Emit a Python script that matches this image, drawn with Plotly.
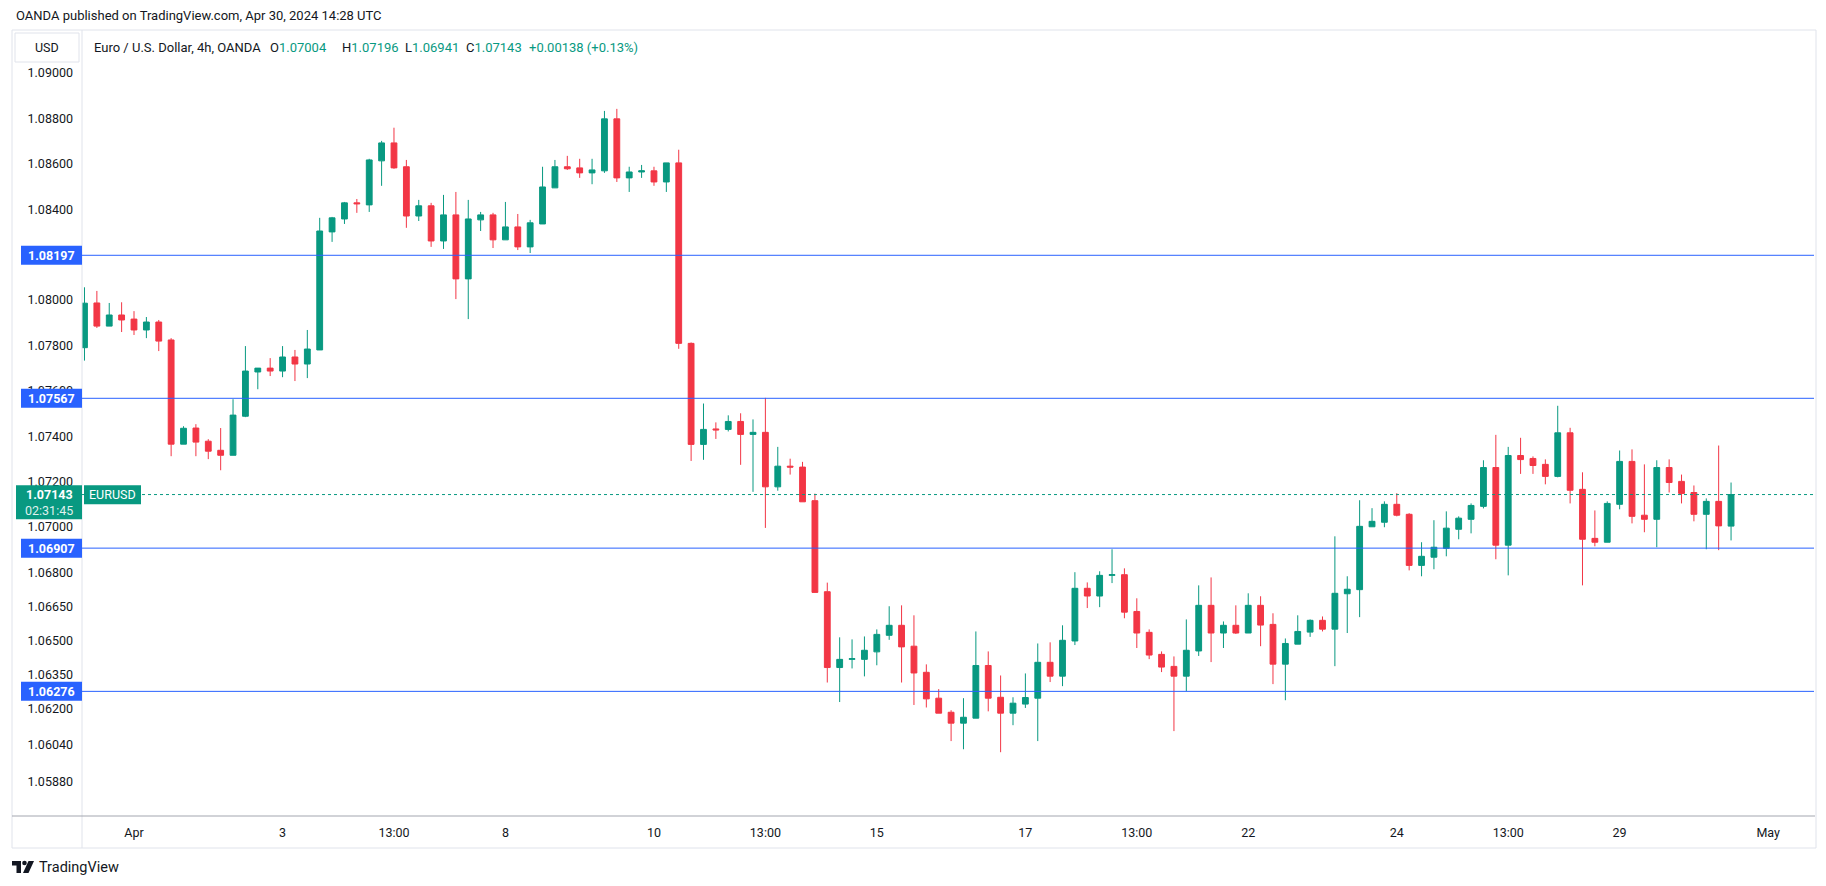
import plotly.graph_objects as go

# ---------------- data (EUR/USD 4h, OANDA) ----------------
opens = [1.0779, 1.07987, 1.07885, 1.07934, 1.07916, 1.07868, 1.07903, 1.07824, 1.07365, 1.07436,
         1.07378, 1.07338, 1.07316, 1.07488, 1.07683, 1.077, 1.07687, 1.07749, 1.07718, 1.0778,
         1.083, 1.08357, 1.08428, 1.08419, 1.08613, 1.08692, 1.08587, 1.0837, 1.08415, 1.0826,
         1.08375, 1.08093, 1.08353, 1.08375, 1.08265, 1.08322, 1.08234, 1.08335, 1.08494, 1.08587,
         1.08582, 1.0856, 1.08569, 1.08798, 1.08538, 1.08564, 1.08569, 1.0852, 1.08604, 1.07809,
         1.07364, 1.07432, 1.0743, 1.07465, 1.07408, 1.07417, 1.07177, 1.07268, 1.07264, 1.07116,
         1.06715, 1.06381, 1.06417, 1.06417, 1.0645, 1.06523, 1.06567, 1.06475, 1.0636, 1.06246,
         1.06184, 1.06136, 1.06158, 1.0639, 1.0625, 1.0618, 1.0622, 1.06246, 1.06404, 1.06343,
         1.06498, 1.0673, 1.06696, 1.06787, 1.0679, 1.06628, 1.06536, 1.06439, 1.06386, 1.06343,
         1.06454, 1.06655, 1.06533, 1.06567, 1.06533, 1.06655, 1.06571, 1.06396, 1.06484, 1.06537,
         1.06589, 1.0655, 1.06706, 1.06724, 1.07001, 1.07021, 1.071, 1.07056, 1.06831, 1.06867,
         1.06906, 1.0699, 1.07034, 1.07091, 1.07262, 1.0692, 1.07315, 1.07302, 1.07276, 1.07223,
         1.07415, 1.07166, 1.0695, 1.06933, 1.071, 1.07289, 1.07052, 1.07034, 1.07262, 1.07201,
         1.07152, 1.07056, 1.07113, 1.07004]
highs = [1.08056, 1.0804, 1.07987, 1.0799, 1.07951, 1.07925, 1.07912, 1.07832, 1.07444, 1.07453,
         1.07387, 1.07436, 1.07563, 1.07797, 1.077, 1.07744, 1.07797, 1.0778, 1.07868, 1.08362,
         1.08366, 1.08432, 1.08445, 1.08622, 1.08701, 1.08759, 1.08617, 1.08441, 1.08428, 1.08463,
         1.08476, 1.08441, 1.08388, 1.08384, 1.08432, 1.08379, 1.08353, 1.08587, 1.08617, 1.08635,
         1.08622, 1.08622, 1.08833, 1.08842, 1.08587, 1.08595, 1.08587, 1.08604, 1.08662, 1.07813,
         1.07544, 1.07461, 1.07492, 1.07501, 1.07474, 1.07569, 1.07353, 1.07301, 1.07287, 1.07147,
         1.06755, 1.06514, 1.06505, 1.06518, 1.06549, 1.06651, 1.06655, 1.06611, 1.06395, 1.06286,
         1.06193, 1.06246, 1.0654, 1.06452, 1.06346, 1.0625, 1.06355, 1.06487, 1.06492, 1.06567,
         1.06801, 1.06756, 1.06805, 1.06902, 1.06818, 1.06686, 1.06549, 1.06452, 1.0643, 1.06593,
         1.06743, 1.06778, 1.06584, 1.06655, 1.06708, 1.06695, 1.0662, 1.06509, 1.06611, 1.06593,
         1.06606, 1.06959, 1.06783, 1.07118, 1.07083, 1.07113, 1.07149, 1.07061, 1.06933, 1.0703,
         1.07069, 1.07047, 1.07104, 1.07294, 1.07406, 1.07353, 1.07393, 1.07311, 1.07298, 1.07534,
         1.07437, 1.07241, 1.07073, 1.07113, 1.07337, 1.07342, 1.07276, 1.07294, 1.07298, 1.07231,
         1.07183, 1.07126, 1.07359, 1.07196]
lows = [1.07733, 1.07877, 1.07885, 1.07859, 1.07846, 1.07832, 1.07775, 1.07312, 1.07365, 1.07312,
        1.07299, 1.0725, 1.07316, 1.07484, 1.07607, 1.07665, 1.0766, 1.07643, 1.07656, 1.0778,
        1.08256, 1.08335, 1.08384, 1.08388, 1.08503, 1.08578, 1.08318, 1.08348, 1.08234, 1.08225,
        1.08004, 1.07916, 1.08304, 1.08229, 1.08265, 1.0822, 1.08207, 1.08335, 1.08494, 1.08573,
        1.08538, 1.0851, 1.0856, 1.0852, 1.08476, 1.08538, 1.08503, 1.08476, 1.07785, 1.07291,
        1.07296, 1.07388, 1.07421, 1.07274, 1.07155, 1.06996, 1.0716, 1.07231, 1.07111, 1.06712,
        1.06315, 1.06229, 1.06377, 1.06342, 1.06391, 1.06503, 1.06315, 1.06216, 1.06205, 1.0618,
        1.06057, 1.06021, 1.06158, 1.06188, 1.06008, 1.06127, 1.06203, 1.06057, 1.06317, 1.06299,
        1.0648, 1.06643, 1.06647, 1.06753, 1.06598, 1.06467, 1.06418, 1.06361, 1.06101, 1.06277,
        1.06432, 1.06405, 1.06467, 1.06529, 1.06533, 1.06475, 1.06308, 1.06237, 1.06484, 1.06516,
        1.0654, 1.06387, 1.06533, 1.06603, 1.07001, 1.06999, 1.07047, 1.06809, 1.06783, 1.06814,
        1.06871, 1.06946, 1.06972, 1.07082, 1.06858, 1.06787, 1.07234, 1.07234, 1.07188, 1.07219,
        1.07104, 1.06743, 1.06915, 1.06933, 1.07078, 1.07016, 1.06977, 1.06911, 1.07152, 1.07104,
        1.07025, 1.06902, 1.06898, 1.06941]
closes = [1.07986, 1.07885, 1.07934, 1.07912, 1.07868, 1.07903, 1.07819, 1.07365, 1.07435, 1.07374,
          1.07334, 1.07316, 1.07493, 1.07687, 1.077, 1.07687, 1.07749, 1.07718, 1.07784, 1.08304,
          1.08362, 1.08428, 1.08424, 1.08617, 1.08692, 1.08582, 1.0837, 1.08415, 1.0826, 1.08375,
          1.08093, 1.08357, 1.08375, 1.08265, 1.08322, 1.08234, 1.0834, 1.08498, 1.08587, 1.08578,
          1.0856, 1.08573, 1.08798, 1.08538, 1.08564, 1.08569, 1.0852, 1.08604, 1.07809, 1.07364,
          1.0743, 1.07428, 1.07465, 1.07408, 1.07417, 1.07177, 1.07268, 1.07264, 1.07111, 1.06712,
          1.06381, 1.06417, 1.0642, 1.06457, 1.06527, 1.06567, 1.06472, 1.06357, 1.06243, 1.0618,
          1.06136, 1.06162, 1.0639, 1.06246, 1.0618, 1.06224, 1.06249, 1.06404, 1.06343, 1.06501,
          1.0673, 1.06696, 1.06787, 1.0679, 1.06625, 1.06533, 1.06436, 1.06383, 1.06343, 1.06457,
          1.06655, 1.06533, 1.06567, 1.06533, 1.06655, 1.06568, 1.06396, 1.06487, 1.0654, 1.06589,
          1.0655, 1.06708, 1.06726, 1.07003, 1.07025, 1.071, 1.07052, 1.06831, 1.06871, 1.06911,
          1.06995, 1.07039, 1.07095, 1.07262, 1.0692, 1.07315, 1.07297, 1.07271, 1.07223, 1.07415,
          1.07162, 1.06946, 1.06933, 1.07104, 1.07289, 1.07047, 1.07034, 1.07262, 1.07196, 1.07148,
          1.07056, 1.07113, 1.07005, 1.07143]

x_tick_index = [4, 16, 25, 34, 46, 55, 64, 76, 85, 94, 106, 115, 124, 136]
x_tick_labels = ["Apr", "3", "13:00", "8", "10", "13:00", "15", "17", "13:00", "22", "24", "13:00", "29", "May"]
y_tick_values = [1.09, 1.088, 1.086, 1.084, 1.08, 1.078, 1.076, 1.074, 1.072, 1.07, 1.068,
                 1.0665, 1.065, 1.0635, 1.062, 1.0604, 1.0588]
level_lines = [1.08197, 1.07567, 1.06907, 1.06276]
last_price = 1.07143
countdown = "02:31:45"
symbol = "EURUSD"
header_title = "Euro / U.S. Dollar, 4h, OANDA"
header_ohlc = [("O", "1.07004"), ("H", "1.07196"), ("L", "1.06941"), ("C", "1.07143")]
header_change = "+0.00138 (+0.13%)"
published = "OANDA published on TradingView.com, Apr 30, 2024 14:28 UTC"

# ---------------- layout geometry (pixels) ----------------
W, H = 1826, 886
PL, PR, PT, PB = 82, 1814, 31, 816


def px(x):
    return (x - PL) / (PR - PL)


def py(y):
    return (PB - y) / (PB - PT)


GREEN = "#089981"
RED = "#F23645"
BLUE = "#2962FF"
TXT = "#131722"
FONT = "Roboto, 'Noto Sans', sans-serif"

idx = list(range(len(opens)))

fig = go.Figure()
fig.add_trace(go.Candlestick(
    x=idx, open=opens, high=highs, low=lows, close=closes,
    increasing=dict(line=dict(color=GREEN, width=1), fillcolor=GREEN),
    decreasing=dict(line=dict(color=RED, width=1), fillcolor=RED),
    whiskerwidth=0, showlegend=False, hoverinfo="skip",
))

shapes = []
# outer frame
shapes.append(dict(type="rect", xref="paper", yref="paper", x0=px(12), x1=px(1816), y0=py(848), y1=py(30),
                   line=dict(color="#e0e3eb", width=1), fillcolor="rgba(0,0,0,0)", layer="below"))
# price-axis separator
shapes.append(dict(type="line", xref="paper", yref="paper", x0=px(82), x1=px(82), y0=py(848), y1=py(30),
                   line=dict(color="#e0e3eb", width=1)))
# time-axis line
shapes.append(dict(type="line", xref="paper", yref="paper", x0=px(12), x1=px(1815), y0=py(816), y1=py(816),
                   line=dict(color="#a3a6af", width=1)))
# USD box
shapes.append(dict(type="rect", xref="paper", yref="paper", x0=px(15), x1=px(79), y0=py(62), y1=py(33),
                   line=dict(color="#e0e3eb", width=1), fillcolor="white"))
# horizontal level lines
for lv in level_lines:
    shapes.append(dict(type="line", xref="paper", yref="y", x0=0, x1=1, y0=lv, y1=lv,
                       line=dict(color=BLUE, width=1)))
# last price dotted line
shapes.append(dict(type="line", xref="paper", yref="y", x0=0, x1=1, y0=last_price, y1=last_price,
                   line=dict(color=GREEN, width=1, dash="dot")))
# level label boxes
for lv in level_lines:
    shapes.append(dict(type="rect", xref="paper", yref="y", x0=px(21), x1=px(82),
                       ysizemode="pixel", yanchor=lv, y0=-9.5, y1=9.5,
                       line=dict(width=0), fillcolor=BLUE))
# last price box (price + countdown)
shapes.append(dict(type="rect", xref="paper", yref="y", x0=px(16), x1=px(82),
                   ysizemode="pixel", yanchor=last_price, y0=-24.7, y1=9.3,
                   line=dict(width=0), fillcolor=GREEN))
# symbol box
shapes.append(dict(type="rect", xref="paper", yref="y", x0=px(84), x1=px(141),
                   ysizemode="pixel", yanchor=last_price, y0=-9.7, y1=9.3,
                   line=dict(width=0), fillcolor=GREEN))
# TradingView logo glyph
shapes.append(dict(type="path", xref="paper", yref="paper",
                   path="M{},{} L{},{} L{},{} L{},{} L{},{} L{},{} Z".format(
                       px(12), py(861), px(21), py(861), px(21), py(873),
                       px(16.5), py(873), px(16.5), py(865.5), px(12), py(865.5)),
                   fillcolor=TXT, line=dict(width=0)))
shapes.append(dict(type="circle", xref="paper", yref="paper", x0=px(22.2), x1=px(26.8), y0=py(865.3), y1=py(860.7),
                   fillcolor=TXT, line=dict(width=0)))
shapes.append(dict(type="path", xref="paper", yref="paper",
                   path="M{},{} L{},{} L{},{} L{},{} Z".format(
                       px(28.5), py(861), px(34), py(861), px(28.5), py(873), px(23), py(873)),
                   fillcolor=TXT, line=dict(width=0)))

ann = []
for lv in level_lines:
    ann.append(dict(xref="paper", yref="y", x=px(51.5), y=lv, text="<b>%.5f</b>" % lv, showarrow=False,
                    xanchor="center", yanchor="middle", font=dict(family=FONT, size=12.5, color="white")))
ann.append(dict(xref="paper", yref="y", x=px(49), y=last_price, text="<b>%.5f</b>" % last_price, showarrow=False,
                xanchor="center", yanchor="middle", font=dict(family=FONT, size=12.5, color="white")))
ann.append(dict(xref="paper", yref="y", x=px(49), y=last_price, yshift=-16, text=countdown, showarrow=False,
                xanchor="center", yanchor="middle", font=dict(family=FONT, size=12.5, color="rgba(255,255,255,0.88)")))
ann.append(dict(xref="paper", yref="y", x=px(112.5), y=last_price, text=symbol, showarrow=False,
                xanchor="center", yanchor="middle", font=dict(family=FONT, size=12.5, color="white")))
ann.append(dict(xref="paper", yref="paper", x=px(14), y=py(15), text=published, showarrow=False,
                xanchor="left", yanchor="middle", font=dict(family=FONT, size=13, color=TXT)))
ann.append(dict(xref="paper", yref="paper", x=px(47), y=py(47.5), text="USD", showarrow=False,
                xanchor="center", yanchor="middle", font=dict(family=FONT, size=12.5, color=TXT)))
ann.append(dict(xref="paper", yref="paper", x=px(92), y=py(47.5), text=header_title, showarrow=False,
                xanchor="left", yanchor="middle", font=dict(family=FONT, size=13, color=TXT)))
for (lab, val), xs in zip(header_ohlc, [268, 340, 403, 464]):
    ann.append(dict(xref="paper", yref="paper", x=px(xs), y=py(47.5),
                    text="%s<span style='color:%s'>%s</span>" % (lab, GREEN, val), showarrow=False,
                    xanchor="left", yanchor="middle", font=dict(family=FONT, size=13, color=TXT)))
ann.append(dict(xref="paper", yref="paper", x=px(527), y=py(47.5), text=header_change, showarrow=False,
                xanchor="left", yanchor="middle", font=dict(family=FONT, size=13, color=GREEN)))
ann.append(dict(xref="paper", yref="paper", x=px(37), y=py(867), text="TradingView", showarrow=False,
                xanchor="left", yanchor="middle", font=dict(family=FONT, size=14.5, color=TXT)))

fig.update_layout(
    width=W, height=H,
    margin=dict(l=PL, r=W - PR, t=PT, b=H - PB, pad=0),
    paper_bgcolor="white", plot_bgcolor="white",
    showlegend=False, boxgap=0.33,
    shapes=shapes, annotations=ann,
    font=dict(family=FONT, color=TXT),
    xaxis=dict(range=[-0.2, 139.7], tickvals=x_tick_index, ticktext=x_tick_labels,
               showgrid=False, zeroline=False, showline=False, ticks="",
               ticklabelstandoff=7, tickfont=dict(family=FONT, size=12.5, color=TXT),
               rangeslider=dict(visible=False), fixedrange=True),
    yaxis=dict(side="left", range=[1.05727, 1.09185], tickvals=y_tick_values,
               ticktext=["%.5f" % v for v in y_tick_values],
               showgrid=False, zeroline=False, showline=False, ticks="",
               ticklabelstandoff=8, tickfont=dict(family=FONT, size=12.5, color=TXT), fixedrange=True),
)

fig.write_html("out.html")
